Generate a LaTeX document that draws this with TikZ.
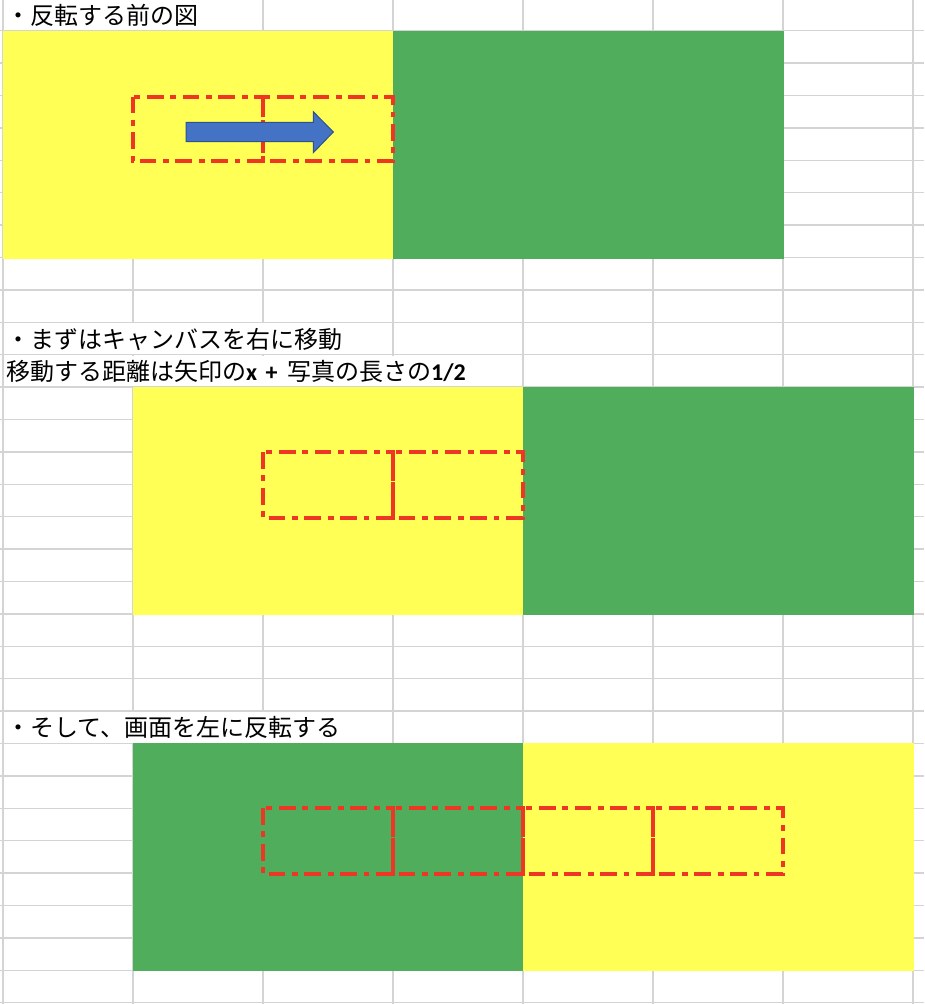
\documentclass[tikz,border=0pt]{standalone}
\usepackage{fontspec}
\usepackage{xcolor}
\usepackage{tikz}
\usetikzlibrary{positioning}
\newfontfamily\jpfont{Noto Sans CJK JP}
\newfontfamily\latinfont{Carlito}
\definecolor{gridgray}{RGB}{212, 212, 212}
\definecolor{sheetyellow}{RGB}{255, 255, 85}
\definecolor{sheetgreen}{RGB}{80, 173, 91}
\definecolor{cutred}{RGB}{238, 54, 36}
\definecolor{arrowblue}{RGB}{68, 114, 196}
\definecolor{arrowedge}{RGB}{47, 82, 143}
\newcommand{\latinbit}[1]{{\latinfont\bfseries #1}}

\begin{document}
\begin{tikzpicture}[
  x=1pt, y=-1pt,
  gridline/.style={line width=1.5pt, draw=gridgray},
  cellmask/.style={fill=white},
  cutbox/.style={line width=4pt, draw=cutred, dash pattern=on 16.7pt off 6.7pt on 5.7pt off 6.7pt},
  rowlabel/.style={anchor=west, inner sep=0, font=\jpfont\fontsize{24}{28}\selectfont},
]
\useasboundingbox (0, 0) rectangle (924, 1004);

% Sheet grid
\foreach \k in {0,...,31}
  \draw[gridline] (0, {-1.7+32.4*\k}) -- (924, {-1.7+32.4*\k});
\foreach \i in {0,...,7}
  \draw[gridline] ({3+130*\i}, 0) -- ({3+130*\i}, 1004);

% Cell borders hidden under overflowing text
\fill[cellmask] (4, 0) rectangle (262, 29.9);
\fill[cellmask] (4, 323.1) rectangle (392, 353.9);
\fill[cellmask] (4, 355.5) rectangle (522, 386.3);
\fill[cellmask] (4, 711.9) rectangle (392, 742.7);

% ==================== before flipping ====================
\node[rowlabel] (titlebefore) at (6, 15) {・反転する前の図};
\fill[sheetyellow] (3, 30.7) rectangle (392.5, 259);
\fill[sheetgreen] (392.5, 30.7) rectangle (783.5, 259);
\foreach \x in {132.5, 262.5}
  \draw[cutbox] (\x, 96.5) rectangle (\x+130, 161);
\filldraw[fill=arrowblue, draw=arrowedge, line width=1pt]
  (186, 122.3) -- (313.3, 122.3) -- (313.3, 111.7) -- (333.3, 132)
  -- (313.3, 152.7) -- (313.3, 141.7) -- (186, 141.7) -- cycle;

% ==================== canvas moved right ====================
\node[rowlabel] (titleshift) at (6, 339) {・まずはキャンバスを右に移動};
\node[rowlabel] (notedistance) at (6, 371)
  {移動する距離は矢印の\latinbit{x\hspace{0.35em}+\hspace{0.4em}}写真の長さの\latinbit{1/2}};
\fill[sheetyellow] (132.5, 386.5) rectangle (522.5, 614.5);
\fill[sheetgreen] (522.5, 386.5) rectangle (913.5, 614.5);
\foreach \x in {262.5, 392.5}
  \draw[cutbox] (\x, 452) rectangle (\x+130, 517.5);

% ==================== flipped to the left ====================
\node[rowlabel] (titleflip) at (6, 727.5) {・そして、画面を左に反転する};
\fill[sheetgreen] (132.5, 742.5) rectangle (522.5, 971);
\fill[sheetyellow] (522.5, 742.5) rectangle (913.5, 971);
\foreach \x in {262.5, 392.5, 522.5, 652.5}
  \draw[cutbox] (\x, 808) rectangle (\x+130, 873.5);

\end{tikzpicture}
\end{document}
